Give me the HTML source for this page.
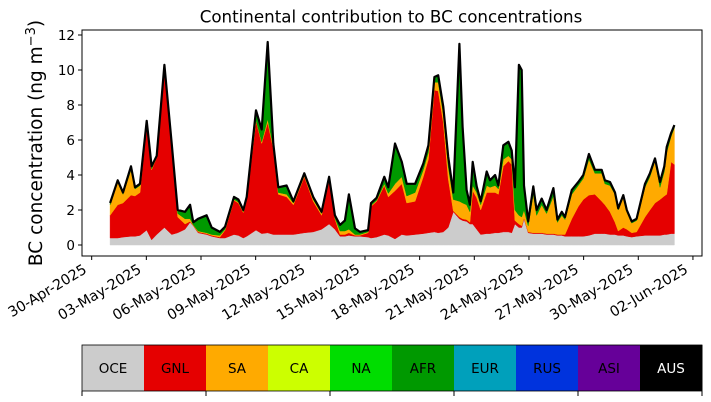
<!DOCTYPE html>
<html><head><meta charset="utf-8"><style>
body{margin:0;background:#fff;font-family:"DejaVu Sans",sans-serif}
svg{display:block}
text{font-family:"DejaVu Sans","Liberation Sans",sans-serif}
</style></head><body>
<svg id="chart" width="711" height="402" xmlns="http://www.w3.org/2000/svg">
<text x="391" y="22.5" text-anchor="middle" font-size="16.7">Continental contribution to BC concentrations</text>
<text transform="translate(42,143) rotate(-90)" text-anchor="middle" font-size="18.5">BC concentration (ng m<tspan dy="-7" font-size="13">−3</tspan><tspan dy="7">)</tspan></text>
<g id="plot"></g>
<g id="legend"></g>
</svg>
<script>
const days=[0.01,0.43,0.72,1.16,1.38,1.65,2.02,2.29,2.57,2.99,3.39,3.72,4.12,4.40,4.58,4.84,5.31,5.59,6.04,6.32,6.81,7.05,7.32,7.51,8.02,8.33,8.66,8.97,9.24,9.70,10.07,10.67,11.16,11.62,12.03,12.35,12.63,12.90,13.12,13.45,13.72,14.17,14.33,14.64,15.06,15.28,15.65,16.02,16.29,16.75,17.20,17.48,17.81,18.02,18.30,18.57,18.85,19.18,19.36,19.58,19.76,19.91,20.13,20.35,20.68,20.86,21.14,21.32,21.59,21.87,22.05,22.23,22.45,22.60,22.73,22.96,23.24,23.42,23.70,23.97,24.34,24.56,24.80,24.98,25.35,25.71,25.98,26.29,26.62,26.99,27.17,27.45,27.72,27.90,28.18,28.37,28.64,28.91,29.37,29.64,29.92,30.19,30.43,30.56,30.80,30.98];
const oce=[.4,.4,.45,.5,.5,.55,.85,.3,.6,1.0,.6,.7,.9,1.3,1.1,.7,.6,.5,.4,.4,.6,.55,.4,.5,.85,.65,.7,.6,.6,.6,.6,.7,.75,.9,1.2,.9,.5,.5,.55,.5,.5,.45,.4,.45,.6,.55,.35,.6,.55,.6,.65,.7,.75,.7,.75,1.0,1.9,1.5,1.4,1.35,1.2,1.2,.9,.6,.65,.65,.7,.7,.75,.75,.7,1.2,1.0,1.0,1.5,.7,.65,.65,.65,.6,.6,.55,.55,.5,.5,.5,.5,.55,.65,.65,.65,.6,.6,.55,.55,.5,.45,.5,.55,.55,.55,.55,.6,.6,.65,.65];
const gnl=[1.3,1.9,1.95,2.35,2.3,2.45,6.05,4.0,4.4,9.1,5.0,.9,.3,.05,.02,.05,.05,.05,.05,.45,1.95,1.85,1.45,2.1,6.25,5.15,6.3,4.9,2.3,2.15,1.7,3.2,1.75,.8,2.5,.6,.1,.1,.15,.05,.05,.25,1.8,2.05,2.8,2.2,2.75,2.9,1.85,1.9,3.25,4.2,8.1,8.1,6.25,2.8,.05,.1,.1,.1,.1,1.9,1.8,1.4,2.35,2.35,2.3,2.2,3.75,4.05,3.9,.2,.2,.1,.05,.05,.05,.05,.05,.05,.05,.05,.05,.1,1.0,1.7,2.1,2.3,2.25,1.85,1.65,1.3,.7,.25,.45,.4,.25,.25,1.05,1.45,1.85,2.05,2.2,2.3,4.1,3.95];
const sa=[.6,1.3,.5,1.45,.4,.4,.1,.05,.05,.05,.05,.2,.3,.15,.03,.05,.05,.05,.1,.05,.05,.05,.05,.05,.05,.1,.2,.1,.1,.15,.1,.1,.1,.1,.05,.05,.2,.2,.2,.05,.05,.05,.05,.05,.1,.2,.4,.4,.4,.5,.4,.4,.45,.5,.5,.7,.65,.9,.9,.85,.6,.3,.3,.3,.4,.3,.4,.3,.4,.3,.3,.6,.5,.5,.45,.35,2.2,1.0,1.6,1.15,2.15,.7,1.1,.85,1.4,1.2,1.2,2.05,1.2,1.6,1.2,1.5,1.6,1.2,1.75,1.0,.55,.65,1.7,1.9,2.4,.7,1.4,2.4,1.45,2.1];
const afr=[.1,.1,.1,.2,.1,.1,.1,.15,.05,.15,.15,.2,.4,.8,.15,.7,1.0,.4,.2,.15,.15,.15,.1,.1,.55,.7,4.4,.2,.3,.5,.1,.1,.15,.1,.15,.15,.35,.6,2.0,.35,.15,.1,.15,.15,.4,.35,2.3,.85,.7,.5,.35,.4,.3,.4,.4,.55,.4,9.0,4.35,.85,.4,1.35,.35,.2,.8,.4,.6,.2,.8,.8,.5,1.3,8.6,8.4,1.4,.25,.45,.3,.35,.2,.45,.15,.2,.15,.25,.2,.2,.3,.2,.2,.2,.2,.1,.1,.1,.1,.1,.1,.2,.2,.15,.3,.3,.3,.2,.15];
const yTicks=[0,2,4,6,8,10,12];
const xTickLabels=["30-Apr-2025","03-May-2025","06-May-2025","09-May-2025","12-May-2025","15-May-2025","18-May-2025","21-May-2025","24-May-2025","27-May-2025","30-May-2025","02-Jun-2025"];
const xTickDays=[-1,2,5,8,11,14,17,20,23,26,29,32];
const regions=["OCE","GNL","SA","CA","NA","AFR","EUR","RUS","ASI","AUS"];
const regionColors=["#cccccc","#e50000","#ffaa00","#ccff00","#00dd00","#009900","#00a0bb","#0033dd","#660099","#000000"];

const NS="http://www.w3.org/2000/svg";
const L=82,R=702,T=30,B=256;
const xs=d=>109.9+d*18.22;
const ys=v=>245-v*17.5;
const plot=document.getElementById('plot');
function mk(tag,attrs,parent){const e=document.createElementNS(NS,tag);for(const k in attrs)e.setAttribute(k,attrs[k]);(parent||plot).appendChild(e);return e;}

const layers=[oce,gnl,sa,afr];
const layerNames=["oce-area","gnl-area","sa-area","afr-area"];
const layerColors=["#cccccc","#e50000","#ffaa00","#009900"];
const cum=days.map(()=>0);
layers.forEach((arr,li)=>{
  const lower=cum.slice();
  arr.forEach((v,i)=>cum[i]+=v);
  let d="M"+days.map((t,i)=>xs(t).toFixed(1)+","+ys(cum[i]).toFixed(1)).join("L");
  for(let i=days.length-1;i>=0;i--)d+="L"+xs(days[i]).toFixed(1)+","+ys(lower[i]).toFixed(1);
  const p=mk('path',{d:d+"Z",fill:layerColors[li],stroke:layerColors[li],'stroke-width':0.5});
  
  
});
const tl=mk('path',{d:"M"+days.map((t,i)=>xs(t).toFixed(1)+","+ys(cum[i]).toFixed(1)).join("L"),fill:"none",stroke:"#000",'stroke-width':2.2,'stroke-linejoin':'round'});



const fr=mk('rect',{x:L,y:T,width:R-L,height:B-T,fill:'none',stroke:'#000','stroke-width':1});



yTicks.forEach(v=>{
  const y=ys(v);
  const t=mk('line',{x1:L-4,x2:L,y1:y,y2:y,stroke:'#000'});
  
  
  const lb=mk('text',{x:L-7,y:y+5,'text-anchor':'end','font-size':13.5});
  lb.textContent=v;
  
  
});
xTickDays.forEach((d,i)=>{
  const x=xs(d);
  const t=mk('line',{x1:x,x2:x,y1:B,y2:B+4,stroke:'#000'});
  
  
  const lb=mk('text',{transform:`translate(${x-4},${B+16}) rotate(-31)`,'text-anchor':'end','font-size':14.3});
  lb.textContent=xTickLabels[i];
  
  
});

const lg=document.getElementById('legend');
const bw=(R-L)/regions.length;
regions.forEach((r,i)=>{
  const rc=mk('rect',{x:L+i*bw,y:345,width:bw+0.5,height:46,fill:regionColors[i]},lg);
  
  
  const tx=mk('text',{x:L+i*bw+bw/2,y:373,'text-anchor':'middle','font-size':13.5,fill:r==="AUS"?"#fff":"#000"},lg);
  tx.textContent=r;
  
  
});
const lf=mk('rect',{x:L,y:345,width:R-L,height:46,fill:'none',stroke:'#000','stroke-width':0.8},lg);


[0,2,4,6,8,10].forEach(k=>{
  const t=mk('line',{x1:L+k*bw,x2:L+k*bw,y1:391,y2:396,stroke:'#000'},lg);
  
  
});
</script>
</body></html>
